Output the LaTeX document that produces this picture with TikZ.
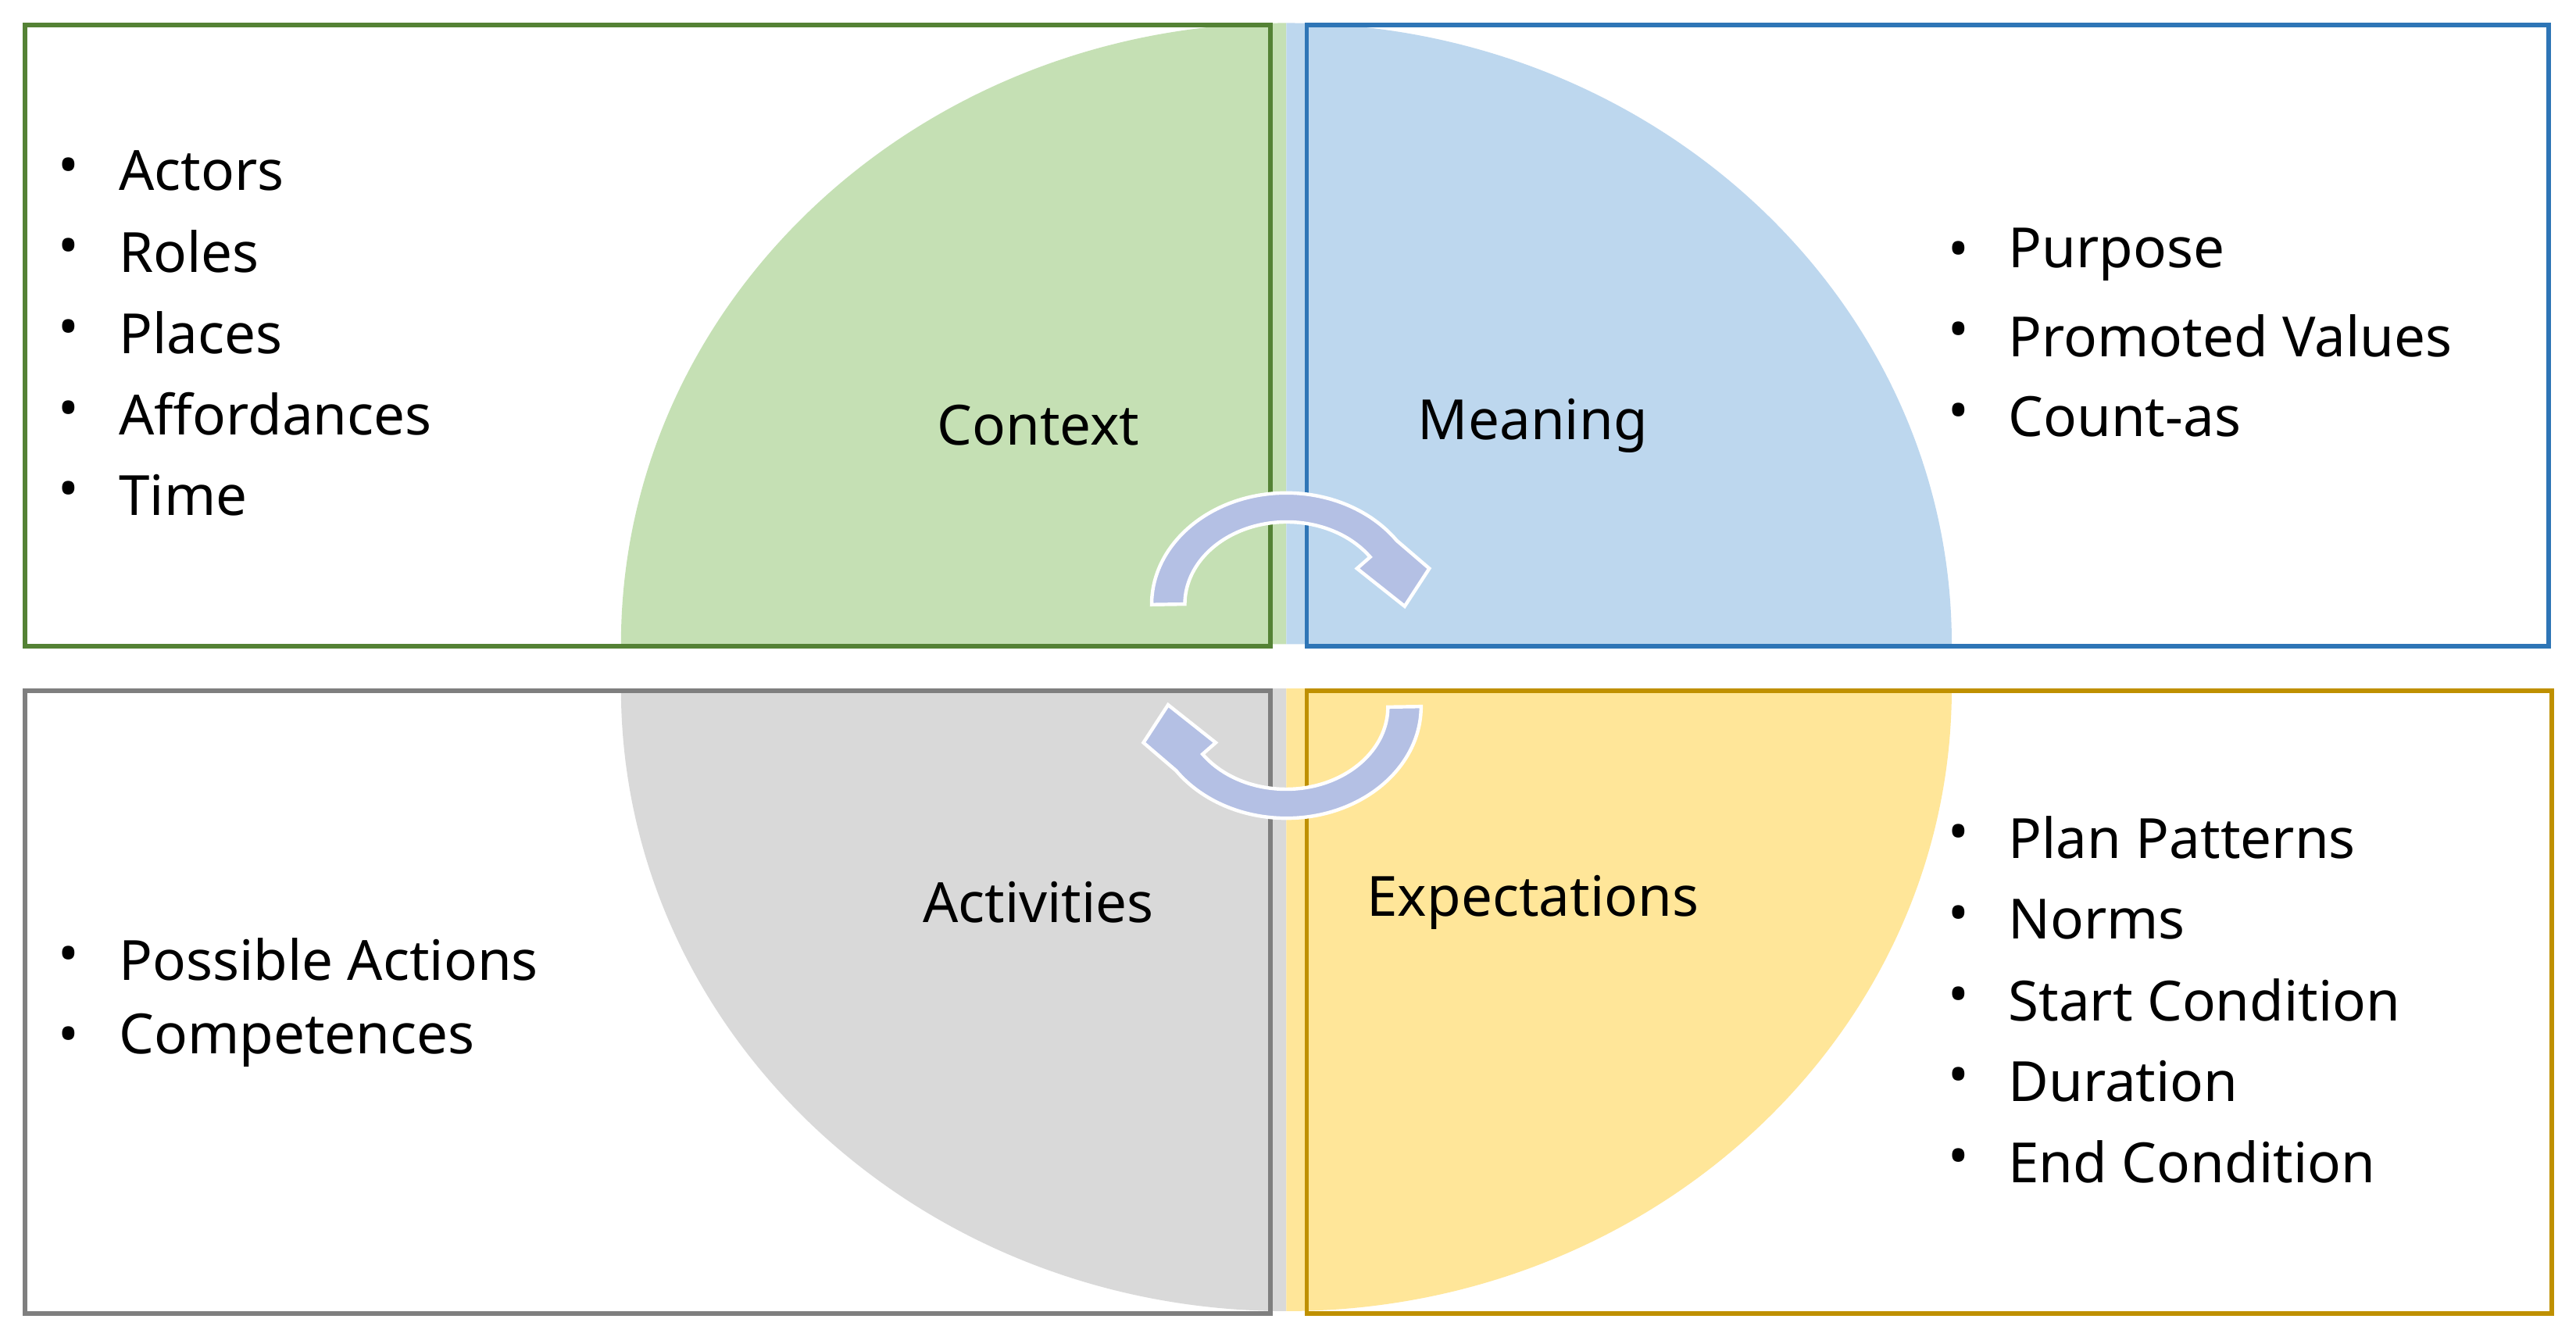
\documentclass[tikz,border=0pt]{standalone}
\usepackage{fontspec}
\setmainfont{Noto Sans}
\begin{document}
\begin{tikzpicture}[x=0.05cm,y=-0.05cm,
  box/.style={line width=4pt},
  lbl/.style={font=\fontsize{48}{58}\selectfont,anchor=center},
  itm/.style={font=\fontsize{48}{58}\selectfont,anchor=west},
  bul/.style={font=\fontsize{48}{58}\selectfont,anchor=center},
  arr/.style={fill=arrowc,draw=white,line width=3pt}]
\definecolor{cgreen}{HTML}{C5E0B4}\definecolor{cblue}{HTML}{BDD7EE}
\definecolor{cgray}{HTML}{D9D9D9}\definecolor{cyellow}{HTML}{FFE699}
\definecolor{bgreen}{HTML}{548235}\definecolor{bblue}{HTML}{2E75B6}
\definecolor{bgray}{HTML}{7F7F7F}\definecolor{bgold}{HTML}{BF9000}
\definecolor{arrowc}{HTML}{B4C0E4}
\useasboundingbox[fill=white] (0,0) rectangle (1568,818);
% quarters
\fill[cgreen] (783,392) -- (378,392) arc[start angle=180,end angle=270,x radius=405,y radius=378] -- cycle;
\fill[cblue] (783,392) -- (783,14) arc[start angle=270,end angle=360,x radius=405,y radius=378] -- cycle;
\fill[cgray] (783,419) -- (378,419) arc[start angle=180,end angle=90,x radius=405,y radius=379] -- cycle;
\fill[cyellow] (783,419) -- (783,798) arc[start angle=90,end angle=0,x radius=405,y radius=379] -- cycle;
% boxes
\node[box,draw=bgreen,minimum width=758*0.05cm,minimum height=378*0.05cm,anchor=north west] (ctx) at (14,14) {};
\node[box,draw=bblue,minimum width=756*0.05cm,minimum height=378*0.05cm,anchor=north west] (mea) at (794,14) {};
\node[box,draw=bgray,minimum width=758*0.05cm,minimum height=379*0.05cm,anchor=north west] (act) at (14,419) {};
\node[box,draw=bgold,minimum width=758*0.05cm,minimum height=379*0.05cm,anchor=north west] (exp) at (794,419) {};
% labels
\node[lbl] (lc) at (632,259) {Context};
\node[lbl] (lm) at (933,259) {Meaning};
\node[lbl] (la) at (632,549) {Activities};
\node[lbl] (le) at (933,549) {Expectations};
% lists
\foreach \t [count=\i] in {Actors,Roles,Places,Affordances,Time}{
  \node[bul] (b1\i) at (42,{104+49.3*(\i-1)}) {•};
  \node[itm] (t1\i) at (70,{104+49.3*(\i-1)}) {\t};}
\foreach \t [count=\i] in {Purpose,Promoted Values,Count-as}{
  \node[bul] (b2\i) at (1192,{155+49.3*(\i-1)}) {•};
  \node[itm] (t2\i) at (1220,{155+49.3*(\i-1)}) {\t};}
\foreach \t [count=\i] in {Possible Actions,Competences}{
  \node[bul] (b3\i) at (42,{584+49.3*(\i-1)}) {•};
  \node[itm] (t3\i) at (70,{584+49.3*(\i-1)}) {\t};}
\foreach \t [count=\i] in {Plan Patterns,Norms,Start Condition,Duration,End Condition}{
  \node[bul] (b4\i) at (1192,{510+49.3*(\i-1)}) {•};
  \node[itm] (t4\i) at (1220,{510+49.3*(\i-1)}) {\t};}
% circular arrows
\def\carrow{(701,368) arc[start angle=180,end angle=325,x radius=82,y radius=68]
  -- (870,346) -- (855,369) -- (826,346)
  -- (834,339) arc[start angle=325,end angle=180,x radius=62,y radius=50] -- cycle}
\draw[arr] \carrow;
\draw[arr,rotate around={180:(783,399)}] \carrow;
\end{tikzpicture}
\end{document}
